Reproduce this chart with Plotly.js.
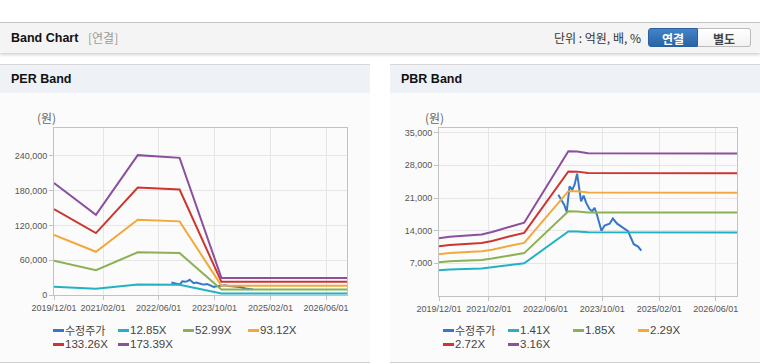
<!DOCTYPE html>
<html><head><meta charset="utf-8">
<script src="https://cdn.plot.ly/plotly-3.0.1.min.js"></script>
<style>
html,body{margin:0;padding:0;}
body{width:760px;height:364px;overflow:hidden;background:#fff;position:relative;font-family:"Liberation Sans",Arial,"Noto Sans CJK KR",sans-serif;}
#hdr{position:absolute;left:0;top:22px;width:760px;height:30px;border-top:1px solid #c6c6c6;background:#f4f4f4;box-shadow:0 2px 3px rgba(0,0,0,0.18);}
#hdr .ttl{position:absolute;left:11px;top:0;line-height:30px;font-weight:bold;font-size:12.5px;color:#111;}
#hdr .sub{position:absolute;left:88px;top:0;line-height:30px;font-size:12px;color:#9a9a9a;font-family:"Noto Sans CJK KR",sans-serif;}
#hdr .unit{position:absolute;right:119px;top:0;line-height:30px;font-size:12px;color:#333;font-family:"Noto Sans CJK KR",sans-serif;}
.btn{position:absolute;top:5px;height:19px;line-height:19px;width:50px;text-align:center;font-size:12px;font-weight:bold;font-family:"Noto Sans CJK KR",sans-serif;box-sizing:border-box;}
#b1{left:648px;background:linear-gradient(#4283c7,#2a64a6);color:#fff;border:1px solid #2b609f;border-radius:3px 0 0 3px;}
#b2{left:698px;width:53px;background:linear-gradient(#ffffff,#f2f2f2);color:#444;border:1px solid #bcbcbc;border-left:none;border-radius:0 3px 3px 0;}
.panel{position:absolute;top:64px;width:370px;height:297px;border-top:1px solid #d6d6d6;border-bottom:1px solid #d0d0d0;background:#fbfbfb;}
.phead{height:28px;background:#eef2f7;line-height:28px;padding-left:11px;font-weight:bold;font-size:12.5px;color:#111;}
.plot{position:absolute;left:0;top:28px;}
.unitlbl{position:absolute;top:45px;line-height:15px;font-size:12px;color:#666;font-family:"Noto Sans CJK KR",sans-serif;}
.legend{position:absolute;left:53px;top:259px;width:270px;font-size:12px;color:#444;}
.legend .row{position:relative;height:13.5px;white-space:nowrap;}
.legend .item{position:absolute;top:0;height:12px;}
.legend .sym{position:absolute;left:0;top:5px;width:11px;height:3px;}
.legend .txt{position:absolute;left:12px;top:0;height:12px;line-height:12px;font-size:11.5px;white-space:nowrap;}
.legend .ko{font-family:"Noto Sans CJK KR",sans-serif;font-size:11px;}
</style></head>
<body>
<div id="hdr"><span class="ttl">Band Chart</span><span class="sub">[연결]</span><span class="unit">단위 : 억원, 배, %</span><div class="btn" id="b1">연결</div><div class="btn" id="b2">별도</div></div>
<div class="panel" id="pL" style="left:0;"><div class="phead">PER Band</div><div class="plot" id="perChart"></div><div class="unitlbl" style="left:37px;">(원)</div><div class="legend" id="perLegend"></div></div>
<div class="panel" id="pR" style="left:390px;"><div class="phead">PBR Band</div><div class="plot" id="pbrChart"></div><div class="unitlbl" style="left:35px;">(원)</div><div class="legend" id="pbrLegend"></div></div>
<script>
// ---- shared axis ticks ----
const tickDates = ['2019-12-01','2021-02-01','2022-06-01','2023-10-01','2025-02-01','2026-06-01'];
const tickLabels = ['2019/12/01','2021/02/01','2022/06/01','2023/10/01','2025/02/01','2026/06/01'];

// ---- adjusted share price (수정주가) ----
const priceDates = ['2022-09-20','2022-10-15','2022-11-10','2022-12-01','2022-12-25','2023-01-18','2023-02-07','2023-02-28','2023-03-15','2023-04-03','2023-04-25','2023-05-16','2023-06-15','2023-07-07','2023-07-28','2023-08-16','2023-09-25','2023-10-22','2023-12-04','2024-01-01','2024-02-06','2024-03-28','2024-05-10','2024-06-28','2024-08-04','2024-09-01'];
const priceValues = [21700,20700,19500,18000,23500,22800,23900,26200,23500,20300,21500,20000,18600,18200,18900,17500,14000,15100,15500,16600,15500,14600,13900,11100,10600,9700];

// ---- PER band ----
const perNames = ['12.85X','52.99X','93.12X','133.26X','173.39X'];
const perDates = ['2019-12-01','2020-12-01','2021-12-01','2022-03-01','2022-12-01','2023-12-01','2026-12-01'];
const per1285  = [14300, 10800, 17900, 17800, 17500, 2500, 2500];
const per5299  = [59000, 42800, 73700, 73300, 72300, 9500, 9500];
const per9312  = [103700, 74500, 129800, 128900, 127000, 16100, 16100];
const per13326 = [148000, 106800, 185400, 184500, 181800, 22700, 22700];
const per17339 = [193000, 138100, 241200, 240000, 236500, 29500, 29500];
const perYTicks = [0, 60000, 120000, 180000, 240000];

// ---- PBR band ----
const pbrNames = ['1.41X','1.85X','2.29X','2.72X','3.16X'];
const pbrDates = ['2019-12-01','2020-03-01','2020-12-01','2021-03-01','2021-08-01','2021-12-01','2022-12-15','2023-03-01','2023-06-01','2026-12-01'];
const pbr141 = [5510, 5670, 5890, 6110, 6630, 7010, 13830, 13810, 13650, 13630];
const pbr185 = [7230, 7430, 7730, 8020, 8690, 9190, 18150, 18120, 17910, 17880];
const pbr229 = [8950, 9200, 9570, 9930, 10760, 11380, 22470, 22430, 22180, 22140];
const pbr272 = [10640, 10930, 11370, 11800, 12790, 13520, 26700, 26650, 26350, 26300];
const pbr316 = [12350, 12700, 13200, 13700, 14850, 15700, 31000, 30950, 30600, 30550];
const pbrYTicks = [7000, 14000, 21000, 28000, 35000];

const priceName = '수정주가';
const colors = ['#3777c9','#22b2c4','#8bb152','#f2a93b','#cd3530','#8b4f9c'];
const fontFam = '"Liberation Sans", Arial, "Noto Sans CJK KR", sans-serif';

function buildTraces(dates, series, names){
  const tr = [{x: priceDates, y: priceValues, name: priceName, type:'scatter', mode:'lines', line:{color:colors[0], width:2}}];
  series.forEach((s,i)=>tr.push({x: dates, y: s, name: names[i], type:'scatter', mode:'lines', line:{color:colors[i+1], width:2}}));
  return tr;
}
function axisBase(){
  return {showgrid:true, gridcolor:'#e6e6e6', gridwidth:1, showline:true, mirror:true, linecolor:'#c2c2c2', linewidth:1,
    ticks:'outside', ticklen:4, tickcolor:'#c2c2c2', zeroline:false, fixedrange:true, tickangle:0,
    tickfont:{size:9, color:'#555', family: fontFam}};
}
function layoutFor(yrange, yticks, ml, mb){
  const xa = Object.assign(axisBase(), {type:'date', range:['2019-12-01','2026-12-01'], tickmode:'array', tickvals: tickDates, ticktext: tickLabels});
  const ya = Object.assign(axisBase(), {range: yrange, tickmode:'array', tickvals: yticks, tickformat: ','});
  return {width:370, height:269, margin:{l:ml, r:23, t:35, b:mb}, paper_bgcolor:'rgba(0,0,0,0)', plot_bgcolor:'rgba(0,0,0,0)',
    showlegend:false, hovermode:false, xaxis: xa, yaxis: ya, font:{family: fontFam}};
}
function buildLegend(el, names){
  const all = [priceName].concat(names);
  const rows = [all.slice(0,4), all.slice(4)];
  let html = '';
  let idx = 0;
  rows.forEach(r=>{
    html += '<div class="row">';
    r.forEach((n,j)=>{
      const cls = n===priceName ? 'txt ko' : 'txt';
      html += '<span class="item" style="left:'+(j*65)+'px"><span class="sym" style="background:'+colors[idx]+'"></span><span class="'+cls+'">'+n+'</span></span>';
      idx++;
    });
    html += '</div>';
  });
  document.getElementById(el).innerHTML = html;
}
const cfg = {staticPlot:true, displayModeBar:false};
Plotly.newPlot('perChart', buildTraces(perDates, [per1285, per5299, per9312, per13326, per17339], perNames), layoutFor([0,288000], perYTicks, 54, 67), cfg);
Plotly.newPlot('pbrChart', buildTraces(pbrDates, [pbr141, pbr185, pbr229, pbr272, pbr316], pbrNames), layoutFor([0,36000], pbrYTicks, 49, 66), cfg);
buildLegend('perLegend', perNames);
buildLegend('pbrLegend', pbrNames);
</script>
</body></html>
